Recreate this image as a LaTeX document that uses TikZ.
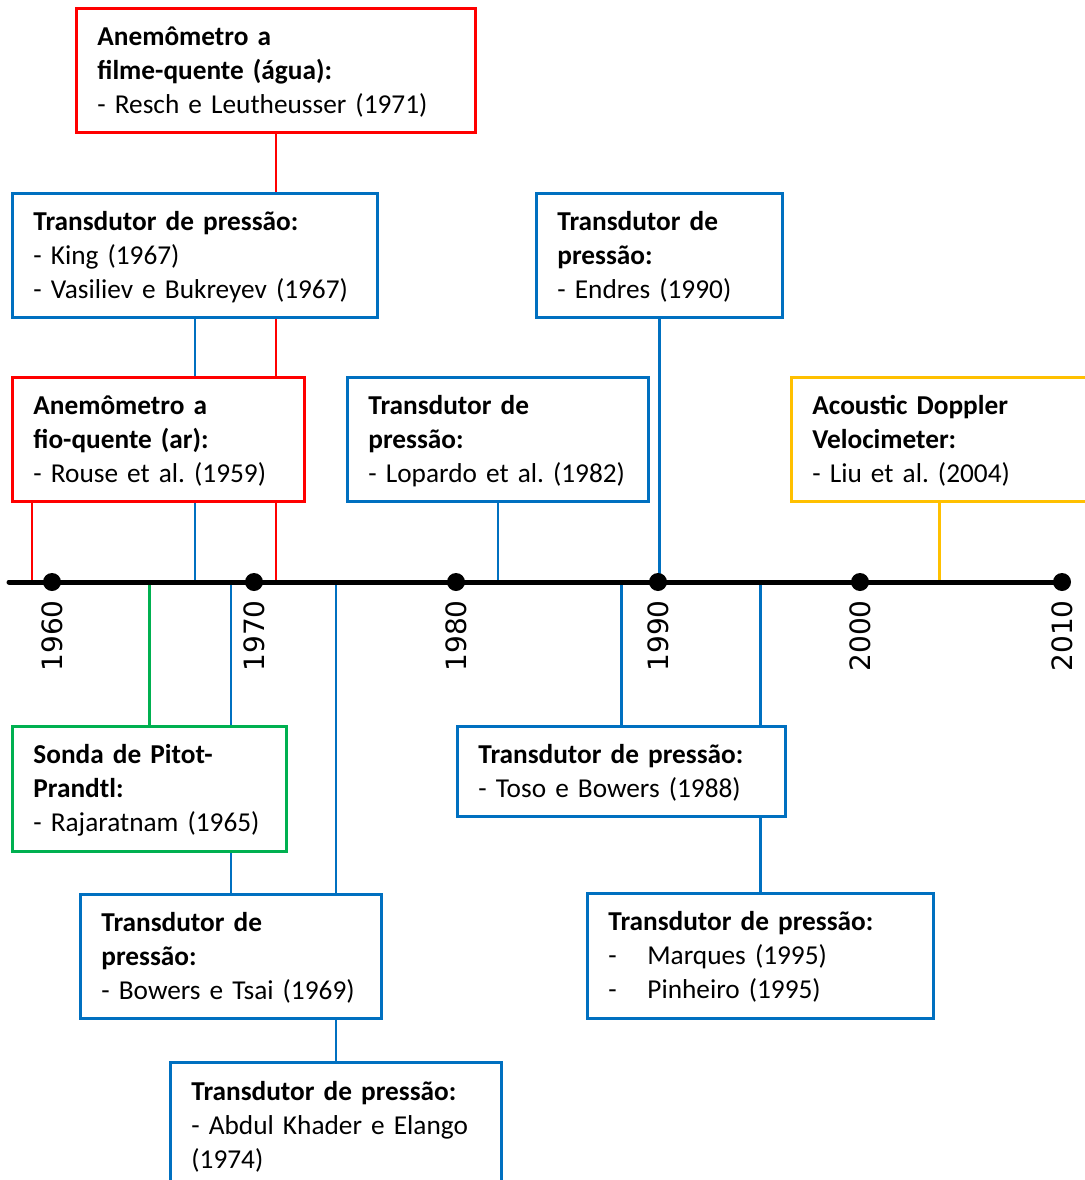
\documentclass[tikz,border=0pt]{standalone}
\usepackage{fontspec}
\setmainfont{Carlito}
\newfontfamily\yearfont{DejaVu Sans}
\definecolor{cred}{HTML}{FF0000}
\definecolor{cblue}{HTML}{0070C0}
\definecolor{cgreen}{HTML}{00B050}
\definecolor{cyellow}{HTML}{FFC000}
\pgfdeclarelayer{background}
\pgfsetlayers{background,main}
\frenchspacing
\begin{document}
\begin{tikzpicture}[x=1pt,y=-1pt,
  box/.style={draw=#1, line width=2.8pt, fill=white, anchor=north west,
    inner xsep=21pt, inner ysep=0pt, align=left,
    font=\fontsize{27.3}{34}\selectfont\frenchspacing,
    execute at begin node={\rule{0pt}{27.5pt}}, execute at end node=\strut},
  conn/.style={draw=#1, line width=2.5pt},
  dot/.style={circle, fill=black, minimum size=18pt, inner sep=0pt},
  year/.style={rotate=90, anchor=east, inner sep=0pt, font=\yearfont\fontsize{28}{32}\selectfont},
]
\useasboundingbox (0,0) rectangle (1084,1180);

% boxes
\node[box=cred, minimum width=399pt, minimum height=124pt, text width=357pt] (hf) at (75,7)
  {\textbf{Anemômetro a}\\\textbf{filme-quente (água):}\\- Resch e Leutheusser (1971)};
\node[box=cblue, minimum width=365pt, minimum height=124pt, text width=323pt] (king) at (11,192)
  {\textbf{Transdutor de pressão:}\\- King (1967)\\- Vasiliev e Bukreyev (1967)};
\node[box=cred, minimum width=292pt, minimum height=124pt, text width=250pt] (rouse) at (11,376)
  {\textbf{Anemômetro a}\\\textbf{fio-quente (ar):}\\- Rouse et al. (1959)};
\node[box=cblue, minimum width=301pt, minimum height=124pt, text width=259pt] (lop) at (346,376)
  {\textbf{Transdutor de}\\\textbf{pressão:}\\\mbox{- Lopardo et al. (1982)}};
\node[box=cblue, minimum width=246pt, minimum height=124pt, text width=204pt] (end) at (535,192)
  {\textbf{Transdutor de}\\\textbf{pressão:}\\- Endres (1990)};
\node[box=cyellow, minimum width=296pt, minimum height=124pt, text width=254pt] (adv) at (790,376)
  {\textbf{Acoustic Doppler}\\\textbf{Velocimeter:}\\- Liu et al. (2004)};
\node[box=cgreen, minimum width=274pt, minimum height=125pt, text width=232pt] (pit) at (11,725)
  {\textbf{Sonda de Pitot-}\\\textbf{Prandtl:}\\- Rajaratnam (1965)};
\node[box=cblue, minimum width=301pt, minimum height=124pt, text width=259pt] (bow) at (79,893)
  {\textbf{Transdutor de}\\\textbf{pressão:}\\\mbox{- Bowers e Tsai (1969)}};
\node[box=cblue, minimum width=331pt, minimum height=126pt, text width=289pt] (abd) at (169,1061)
  {\textbf{Transdutor de pressão:}\\- Abdul Khader e Elango\\(1974)};
\node[box=cblue, minimum width=328pt, minimum height=90pt, text width=286pt] (toso) at (456,725)
  {\textbf{Transdutor de pressão:}\\- Toso e Bowers (1988)};
\node[box=cblue, minimum width=346pt, minimum height=125pt, text width=304pt] (mar) at (586,892)
  {\textbf{Transdutor de pressão:}\\\makebox[39pt][l]{-}Marques (1995)\\\makebox[39pt][l]{-}Pinheiro (1995)};

% timeline
\coordinate (axL) at (9,582);
\coordinate (axR) at (1062,582);
\draw[line width=5pt, line cap=round] (axL) -- (axR);
\foreach \yr/\xx in {1960/52,1970/254,1980/456,1990/658,2000/860,2010/1062}{
  \node[dot] (d\yr) at (\xx,582) {};
  \node[year] (y\yr) at (\xx,600) {\yr};
}
\coordinate (t1959) at (32,582);

% connectors
\begin{pgfonlayer}{background}
\draw[conn=cred] (hf.south) -- (hf.south |- axL);
\draw[conn=cred] (rouse.south -| t1959) -- (t1959);
\draw[conn=cblue] (king.south) -- (king.south |- axL);
\draw[conn=cblue] (lop.south) -- (lop.south |- axL);
\draw[conn=cblue] (end.south) -- (end.south |- axL);
\draw[conn=cyellow] (adv.south) -- (adv.south |- axL);
\draw[conn=cgreen] (pit.north) -- (pit.north |- axL);
\draw[conn=cblue] (bow.north) -- (bow.north |- axL);
\draw[conn=cblue] (abd.north) -- (abd.north |- axL);
\draw[conn=cblue] (toso.north) -- (toso.north |- axL);
\draw[conn=cblue] (mar.north) -- (mar.north |- axL);
\end{pgfonlayer}
\end{tikzpicture}
\end{document}
